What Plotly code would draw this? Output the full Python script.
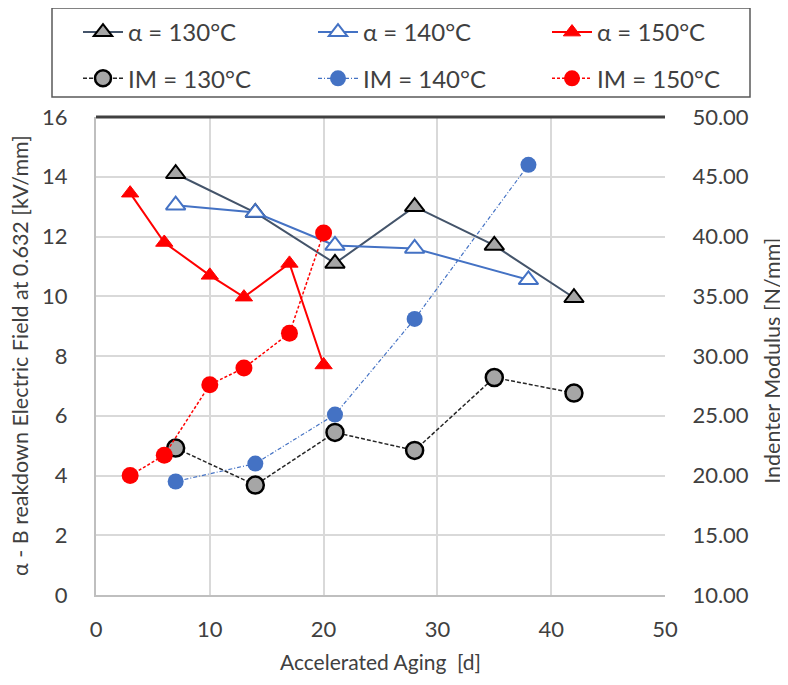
import plotly.graph_objects as go

# ---- data ----
alpha130_x = [7, 14, 21, 28, 35, 42]
alpha130_y = [14.1, 12.8, 11.1, 13.0, 11.7, 9.95]
alpha140_x = [7, 14, 21, 28, 38]
alpha140_y = [13.05, 12.8, 11.7, 11.6, 10.55]
alpha150_x = [3, 6, 10, 13, 17, 20]
alpha150_y = [13.45, 11.8, 10.7, 9.97, 11.1, 7.7]

im130_x = [7, 14, 21, 28, 35, 42]
im130_y = [22.3, 19.2, 23.6, 22.1, 28.2, 26.9]
im140_x = [7, 14, 21, 28, 38]
im140_y = [19.5, 21.0, 25.1, 33.1, 46.0]
im150_x = [3, 6, 10, 13, 17, 20]
im150_y = [20.0, 21.7, 27.6, 29.0, 31.9, 40.3]

left_ticks = [0, 2, 4, 6, 8, 10, 12, 14, 16]
right_ticks = [10, 15, 20, 25, 30, 35, 40, 45, 50]
right_ticklabels = [f"{v:.2f}" for v in right_ticks]
x_ticks = [0, 10, 20, 30, 40, 50]

FONT = "Lato, 'Open Sans', sans-serif"
TXT = "#404040"
NAVY = "#44546A"
BLUE = "#4472C4"
RED = "#FF0000"
CLEAR = "rgba(0,0,0,0)"

fig = go.Figure()

fig.add_trace(go.Scatter(
    x=alpha130_x, y=alpha130_y, name="α = 130°C", mode="lines+markers",
    legend="legend", legendgroup="a130",
    line=dict(color=NAVY, width=2),
    marker=dict(symbol="triangle-up", size=17, color="#A6A6A6",
                line=dict(color="#000000", width=2))))
fig.add_trace(go.Scatter(
    x=im130_x, y=im130_y, name="IM = 130°C", mode="lines+markers", yaxis="y2",
    legend="legend", legendgroup="i130",
    line=dict(color="#262626", width=1.5, dash="4px,2px"),
    marker=dict(symbol="circle", size=17, color="#A6A6A6",
                line=dict(color="#000000", width=2.5))))

fig.add_trace(go.Scatter(
    x=alpha140_x, y=alpha140_y, name="α = 140°C", mode="lines+markers",
    legend="legend2", legendgroup="a140",
    line=dict(color=BLUE, width=2),
    marker=dict(symbol="triangle-up", size=17, color="#FFFFFF",
                line=dict(color=BLUE, width=2))))
fig.add_trace(go.Scatter(
    x=im140_x, y=im140_y, name="IM = 140°C", mode="lines+markers", yaxis="y2",
    legend="legend2", legendgroup="i140",
    line=dict(color=BLUE, width=1.2, dash="4px,2px,1px,2px"),
    marker=dict(symbol="circle", size=16, color=BLUE,
                line=dict(color=BLUE, width=0))))

fig.add_trace(go.Scatter(
    x=alpha150_x, y=alpha150_y, name="α = 150°C", mode="lines+markers",
    legend="legend3", legendgroup="a150",
    line=dict(color=RED, width=2),
    marker=dict(symbol="triangle-up", size=15, color=RED,
                line=dict(color=RED, width=1))))
fig.add_trace(go.Scatter(
    x=im150_x, y=im150_y, name="IM = 150°C", mode="lines+markers", yaxis="y2",
    legend="legend3", legendgroup="i150",
    line=dict(color=RED, width=1.5, dash="3px,2px"),
    marker=dict(symbol="circle", size=17, color=RED,
                line=dict(color=RED, width=0))))

# target on-screen plot box; page body adds an 8px offset
OFF = 8
W, H = 788, 685
PLOT_L, PLOT_R, PLOT_T, PLOT_B = 96, 665, 117, 595
PW, PH = PLOT_R - PLOT_L, PLOT_B - PLOT_T


def px_x(p):
    return (p - PLOT_L) / PW


def px_y(p):
    return (PLOT_B - p) / PH


def legend_cfg(x_screen):
    return dict(
        orientation="v", x=px_x(x_screen), y=px_y(10),
        xanchor="left", yanchor="top",
        bgcolor=CLEAR, borderwidth=0, traceorder="grouped",
        tracegroupgap=12, itemwidth=40,
        font=dict(family=FONT, size=24, color=TXT),
    )


fig.update_layout(
    width=W, height=H,
    margin=dict(l=PLOT_L - OFF, r=W - PLOT_R + OFF,
                t=PLOT_T - OFF, b=H - PLOT_B + OFF, autoexpand=False),
    paper_bgcolor="white", plot_bgcolor="white",
    font=dict(family=FONT, color=TXT, size=22),
    showlegend=True,
    legend=legend_cfg(78),
    legend2=legend_cfg(313),
    legend3=legend_cfg(547),
    xaxis=dict(
        range=[0, 50], tickvals=x_ticks, showgrid=True, gridcolor="#D9D9D9",
        gridwidth=1.5, showline=True, linecolor="#BFBFBF", linewidth=2,
        zeroline=False, ticks="", automargin=False, ticklabelstandoff=14,
        tickfont=dict(size=22, color=TXT),
        title=dict(text="Accelerated Aging  [d]", font=dict(size=21, color=TXT),
                   standoff=14),
    ),
    yaxis=dict(
        range=[0, 16], tickvals=left_ticks, showgrid=True, gridcolor="#D9D9D9",
        gridwidth=1.5, showline=True, linecolor="#BFBFBF", linewidth=2,
        zeroline=False, ticks="outside", ticklen=22, tickcolor=CLEAR,
        automargin=False, tickfont=dict(size=22, color=TXT),
    ),
    yaxis2=dict(
        range=[10, 50], tickvals=right_ticks, ticktext=right_ticklabels,
        overlaying="y", side="right", showgrid=False, showline=False,
        ticks="outside", ticklen=22, tickcolor=CLEAR, zeroline=False,
        automargin=False, tickfont=dict(size=22, color=TXT),
    ),
    yaxis3=dict(
        range=[10, 50], tickvals=right_ticks, overlaying="y", side="right",
        showgrid=False, showline=True, linecolor="#D9D9D9", linewidth=2,
        ticks="outside", ticklen=6, tickcolor="#D9D9D9", showticklabels=False,
        zeroline=False, automargin=False,
    ),
)

# axis titles as rotated annotations for precise placement
fig.add_annotation(text="α - B reakdown Electric Field at 0.632 [kV/mm]",
                   xref="paper", yref="paper", x=px_x(20), y=0.5,
                   xanchor="center", yanchor="middle", textangle=-90,
                   showarrow=False, font=dict(family=FONT, size=21.5, color=TXT))
fig.add_annotation(text="Indenter Modulus [N/mm]",
                   xref="paper", yref="paper", x=px_x(772), y=0.49,
                   xanchor="center", yanchor="middle", textangle=-90,
                   showarrow=False, font=dict(family=FONT, size=21.5, color=TXT))

# thick dark top border of plot area
fig.add_shape(type="line", xref="paper", yref="paper", x0=0, x1=1, y0=1, y1=1,
              line=dict(color="#404040", width=3))
# legend frame
fig.add_shape(type="rect", xref="paper", yref="paper",
              x0=px_x(52), x1=px_x(750), y0=px_y(97), y1=px_y(8),
              line=dict(color="#595959", width=1.5), fillcolor=CLEAR)

fig.write_html("out.html")
